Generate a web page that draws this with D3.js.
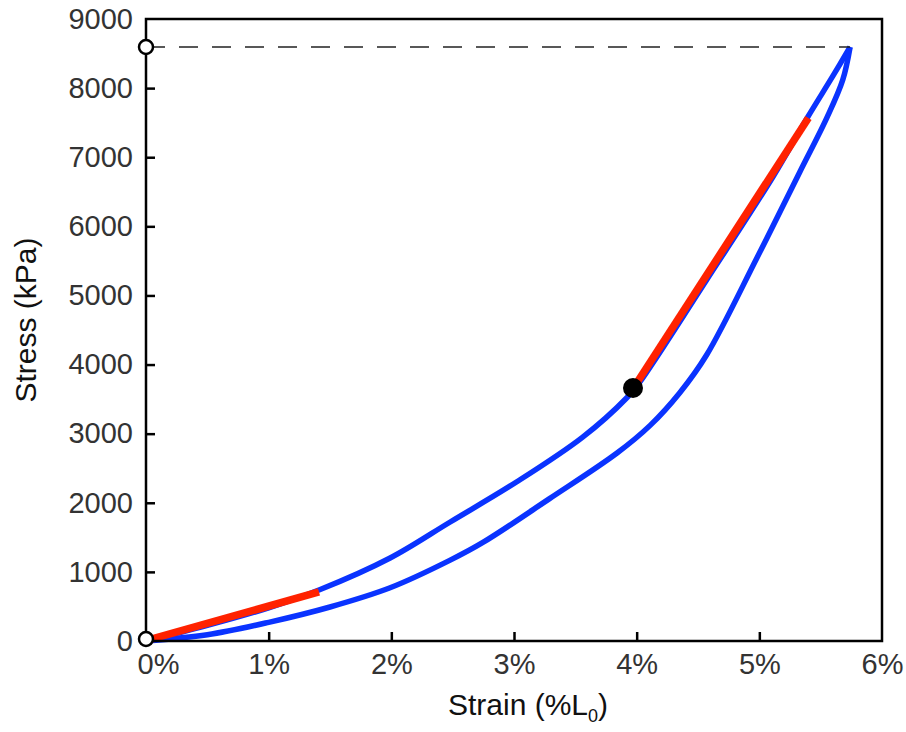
<!DOCTYPE html>
<html>
<head>
<meta charset="utf-8">
<script src="https://cdn.jsdelivr.net/npm/d3@7"></script>
<style>
  body { margin: 0; background: #fff; }
  svg text { font-family: "Liberation Sans", Arial, sans-serif; }
</style>
</head>
<body>
<div id="chart"></div>
<script>
// loading branch (strain %, stress kPa)
var loadStrain = [0, 0.50, 1.00, 1.42, 1.99, 2.48, 3.02, 3.56, 3.92, 4.02, 4.57, 5.11, 5.39, 5.60, 5.74];
var loadStress = [0, 225, 480, 745, 1201, 1722, 2300, 2950, 3520, 3733, 5224, 6714, 7568, 8176, 8595];

// unloading branch (listed from low to high strain)
var unloadStrain = [0, 0.50, 1.00, 1.50, 1.99, 2.48, 2.75, 3.29, 3.84, 4.11, 4.35, 4.57, 4.98, 5.33, 5.55, 5.68, 5.74];
var unloadStress = [0, 90, 270, 492, 770, 1170, 1430, 2060, 2720, 3120, 3589, 4138, 5542, 6786, 7568, 8118, 8595];

// linear fits (red)
var fitLowStrain = [0.05, 1.41];
var fitLowStress = [30, 710];
var fitHighStrain = [3.97, 5.40];
var fitHighStress = [3650, 7568];

var pointStrain = 3.97, pointStress = 3660;
var peakStrain = 5.74, peakStress = 8595;

var xTicks = [0, 1, 2, 3, 4, 5, 6];
var yTicks = [0, 1000, 2000, 3000, 4000, 5000, 6000, 7000, 8000, 9000];

var width = 906, height = 732;
var margin = {top: 19, right: 24, bottom: 91, left: 146};

var svg = d3.select('#chart').append('svg')
  .attr('width', width)
  .attr('height', height);

var x = d3.scaleLinear().domain([0, 6]).range([margin.left, width - margin.right]);
var y = d3.scaleLinear().domain([0, 9000]).range([height - margin.bottom, margin.top]);

var zip = function (xs, ys) { return xs.map(function (v, i) { return [v, ys[i]]; }); };

var line = d3.line()
  .x(function (d) { return x(d[0]); })
  .y(function (d) { return y(d[1]); })
  .curve(d3.curveCatmullRom.alpha(0.5));

var straight = d3.line()
  .x(function (d) { return x(d[0]); })
  .y(function (d) { return y(d[1]); });

// curves
[zip(loadStrain, loadStress), zip(unloadStrain, unloadStress)].forEach(function (branch) {
  svg.append('path')
    .datum(branch)
    .attr('d', line)
    .attr('fill', 'none')
    .attr('stroke', '#0a33ff')
    .attr('stroke-width', 5.5)
    .attr('stroke-linejoin', 'round');
});

[zip(fitLowStrain, fitLowStress), zip(fitHighStrain, fitHighStress)].forEach(function (seg) {
  svg.append('path')
    .datum(seg)
    .attr('d', straight)
    .attr('fill', 'none')
    .attr('stroke', '#ff2200')
    .attr('stroke-width', 7.5);
});

// dashed line at peak stress
svg.append('line')
  .attr('x1', x(0))
  .attr('x2', x(peakStrain))
  .attr('y1', y(peakStress))
  .attr('y2', y(peakStress))
  .attr('stroke', '#222')
  .attr('stroke-width', 1.5)
  .attr('stroke-dasharray', '19,14');

svg.append('circle')
  .attr('cx', x(pointStrain))
  .attr('cy', y(pointStress))
  .attr('r', 10)
  .attr('fill', '#000');

// axes
var xAxis = d3.axisBottom(x).tickValues(xTicks).tickSize(-9).tickPadding(12)
  .tickFormat(function (d) { return d + '%'; });
var yAxis = d3.axisLeft(y).tickValues(yTicks).tickSize(-9).tickPadding(13)
  .tickFormat(d3.format('d'));

var gx = svg.append('g')
  .attr('transform', 'translate(0,' + y(0) + ')')
  .call(xAxis);
var gy = svg.append('g')
  .attr('transform', 'translate(' + x(0) + ',0)')
  .call(yAxis);

[gx, gy].forEach(function (g) {
  g.select('.domain').remove();
  g.selectAll('.tick line').attr('stroke', '#000').attr('stroke-width', 2.5);
  g.selectAll('.tick text')
    .attr('fill', '#333')
    .style('font-size', '29px');
});
gx.selectAll('.tick text').filter(function (d) { return d === 0; }).attr('dx', 12);
gx.selectAll('.tick').filter(function (d) { return d === 0 || d === 6; }).select('line').remove();
gy.selectAll('.tick').filter(function (d) { return d === 0 || d === 9000; }).select('line').remove();

// frame
svg.append('rect')
  .attr('x', x(0))
  .attr('y', y(9000))
  .attr('width', x(6) - x(0))
  .attr('height', y(0) - y(9000))
  .attr('fill', 'none')
  .attr('stroke', '#000')
  .attr('stroke-width', 2.5);

// open markers on the axis
[[0, peakStress], [0, 0]].forEach(function (p) {
  svg.append('circle')
    .attr('cx', x(p[0]))
    .attr('cy', y(p[1]) - (p[1] === 0 ? 2 : 0))
    .attr('r', 7)
    .attr('fill', '#fff')
    .attr('stroke', '#000')
    .attr('stroke-width', 2.5);
});

// titles
var xt = svg.append('text')
  .attr('x', 528)
  .attr('y', 715)
  .attr('text-anchor', 'middle')
  .attr('fill', '#111')
  .style('font-size', '30px');
xt.append('tspan').text('Strain (%L');
xt.append('tspan').attr('dy', 7).style('font-size', '18px').text('0');
xt.append('tspan').attr('dy', -7).text(')');

svg.append('text')
  .attr('transform', 'translate(36,320) rotate(-90)')
  .attr('text-anchor', 'middle')
  .attr('fill', '#111')
  .style('font-size', '30px')
  .text('Stress (kPa)');
</script>
</body>
</html>
